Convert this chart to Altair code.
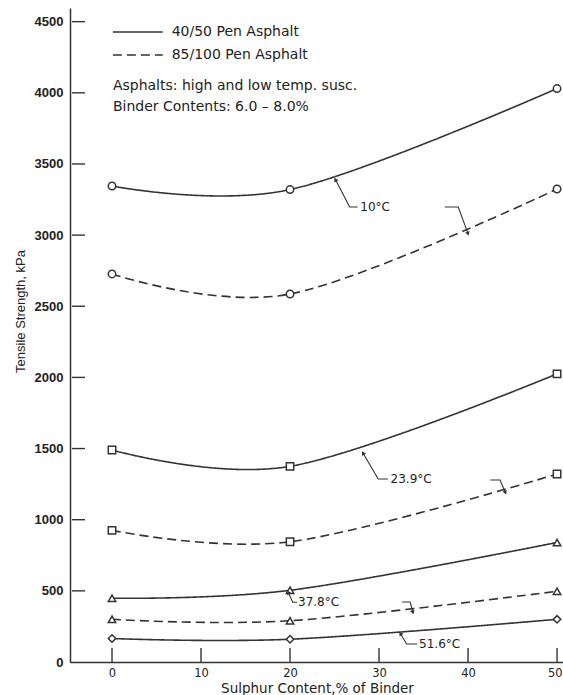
import altair as alt
import pandas as pd

# ---------------- data ----------------
sulphur = [0, 20, 50]
asphalts = ["40/50 Pen Asphalt", "85/100 Pen Asphalt"]
temps = ["10°C", "23.9°C", "37.8°C", "51.6°C"]

pen40_10 = [3345, 3320, 4030]
pen85_10 = [2727, 2586, 3324]
pen40_239 = [1490, 1375, 2025]
pen85_239 = [925, 845, 1321]
pen40_378 = [448, 504, 840]
pen85_378 = [300, 290, 497]
pen40_516 = [165, 160, 300]

series = [
    (asphalts[0], temps[0], pen40_10),
    (asphalts[1], temps[0], pen85_10),
    (asphalts[0], temps[1], pen40_239),
    (asphalts[1], temps[1], pen85_239),
    (asphalts[0], temps[2], pen40_378),
    (asphalts[1], temps[2], pen85_378),
    (asphalts[0], temps[3], pen40_516),
]

x_ticks = [0, 10, 20, 30, 40, 50]
y_ticks = [0, 500, 1000, 1500, 2000, 2500, 3000, 3500, 4000, 4500]

# annotation leader lines (data coords): group, x, y
leader_group = ["a", "a", "a", "b", "b", "b", "c", "c", "c", "d", "d", "d",
                "e", "e", "e", "f", "f", "f", "g", "g", "g"]
leader_x = [25.1, 26.7, 27.6, 37.4, 38.9, 40.0, 28.2, 29.9, 31.0, 42.5, 43.6, 44.2,
            19.8, 20.3, 20.8, 32.6, 33.5, 33.8, 32.4, 33.1, 34.3]
leader_y = [3390, 3197, 3197, 3197, 3197, 3010, 1469, 1286, 1286, 1279, 1279, 1190,
            490, 420, 420, 422, 422, 350, 200, 126, 126]

arrow_x = [25.1, 40.0, 28.2, 44.2, 19.8, 33.8, 32.4]
arrow_y = [3390, 3010, 1469, 1190, 490, 350, 200]
arrow_angle = [330, 158, 330, 156, 333, 162, 325]

label_text = ["10°C", "23.9°C", "37.8°C", "51.6°C"]
label_x = [27.9, 31.3, 20.9, 34.5]
label_y = [3197, 1286, 420, 126]

legend_text = asphalts
legend_line_x = [0.1, 5.7]
legend_line_y = [4427, 4266]
legend_text_x = 6.7
note_text = ["Asphalts: high and low temp. susc.", "Binder Contents: 6.0 – 8.0%"]
note_x = 0.1
note_y = [4048, 3900]

# ---------------- build tables ----------------
rows = []
for asp, temp, vals in series:
    for xv, yv in zip(sulphur, vals):
        rows.append(dict(sulphur=xv, strength=yv, asphalt=asp, temp=temp, key=asp + temp))
df = pd.DataFrame(rows)

lead_df = pd.DataFrame({"g": leader_group, "sulphur": leader_x, "strength": leader_y,
                        "o": list(range(len(leader_x)))})
arrow_df = pd.DataFrame({"sulphur": arrow_x, "strength": arrow_y, "ang": arrow_angle})
lab_df = pd.DataFrame({"sulphur": label_x, "strength": label_y, "t": label_text})

leg_rows = []
for asp, yv in zip(legend_text, legend_line_y):
    for xv in legend_line_x:
        leg_rows.append(dict(sulphur=xv, strength=yv, asphalt=asp))
leg_line_df = pd.DataFrame(leg_rows)
leg_txt_df = pd.DataFrame({"sulphur": [legend_text_x] * 2 + [note_x] * 2,
                           "strength": legend_line_y + note_y,
                           "t": legend_text + note_text})

xt_df = pd.DataFrame({"sulphur": x_ticks})
yt_df = pd.DataFrame({"strength": y_ticks[1:]})

# ---------------- chart ----------------
W, H = 493, 654
INK = "#333333"
FONT = "DejaVu Sans"
xs = alt.Scale(domain=[-4.72, 50.67], nice=False, zero=False)
ys = alt.Scale(domain=[0, 4596], nice=False, zero=True)
dash = alt.StrokeDash("asphalt:N", scale=alt.Scale(domain=asphalts, range=[[1, 0], [9, 5]]), legend=None)

X = alt.X("sulphur:Q", scale=xs, axis=alt.Axis(
    values=x_ticks, ticks=False, grid=False, domainColor=INK, domainWidth=1.5,
    labelFont=FONT, labelFontSize=11.5, labelColor="#222", labelPadding=5,
    labelFlush=8, labelFlushOffset=5,
    format="d",
    title="Sulphur Content,% of Binder", titleFont=FONT, titleFontSize=13.5,
    titleFontWeight="normal", titleColor="#222", titleX=247, titleY=26,
    titleBaseline="middle", titleAlign="center"))
Y = alt.Y("strength:Q", scale=ys, axis=alt.Axis(
    values=y_ticks, ticks=False, grid=False, domainColor=INK, domainWidth=1.5,
    format="d", labelFlush=False,
    labelFont="Liberation Sans", labelFontSize=13, labelFontWeight="bold",
    labelColor="#222", labelPadding=7,
    title="Tensile Strength, kPa", titleFont="Liberation Sans", titleFontSize=13,
    titleFontWeight="normal", titleColor="#222", titleX=-50, titleY=303,
    titleAlign="center", titleBaseline="middle", titleAngle=270))

lines = alt.Chart(df).mark_line(interpolate="cardinal", color=INK, strokeWidth=1.6).encode(
    x=X, y=Y, detail="key:N", strokeDash=dash)

points = alt.Chart(df).mark_point(filled=True, fill="white", stroke=INK, strokeWidth=1.5,
                                  size=55, opacity=1).encode(
    x=X, y=Y,
    shape=alt.Shape("temp:N", scale=alt.Scale(domain=temps,
                    range=["circle", "square", "triangle-up", "diamond"]), legend=None))

leaders = alt.Chart(lead_df).mark_line(color=INK, strokeWidth=1.1).encode(
    x=X, y=Y, detail="g:N", order="o:Q")

arrows = alt.Chart(arrow_df).mark_point(shape="triangle-up", filled=True, color=INK,
                                        size=22, opacity=1).encode(
    x=X, y=Y, angle=alt.Angle("ang:Q", scale=None))

labels = alt.Chart(lab_df).mark_text(align="left", baseline="middle", font=FONT,
                                     fontSize=12, color="#222").encode(
    x=X, y=Y, text="t:N")

leg_lines = alt.Chart(leg_line_df).mark_line(color=INK, strokeWidth=1.6).encode(
    x=X, y=Y, detail="asphalt:N", strokeDash=dash)

leg_texts = alt.Chart(leg_txt_df).mark_text(align="left", baseline="middle", font=FONT,
                                            fontSize=14, color="#222").encode(
    x=X, y=Y, text="t:N")

ytick_marks = alt.Chart(yt_df).mark_rule(color=INK, strokeWidth=1.4).encode(
    y=Y, x=alt.value(2), x2=alt.value(15))
xtick_marks = alt.Chart(xt_df).mark_rule(color=INK, strokeWidth=1.4).encode(
    x=X, y=alt.value(H - 14), y2=alt.value(H))

chart = alt.layer(lines, points, leaders, arrows, labels, leg_lines, leg_texts,
                  ytick_marks, xtick_marks).properties(
    width=W, height=H,
    autosize=alt.AutoSizeParams(type="none"),
    padding={"left": 70, "top": 8, "right": 0, "bottom": 33},
    background="white",
).configure_view(stroke=None)

chart.save("out.html", embed_options={"renderer": "svg", "actions": False})
